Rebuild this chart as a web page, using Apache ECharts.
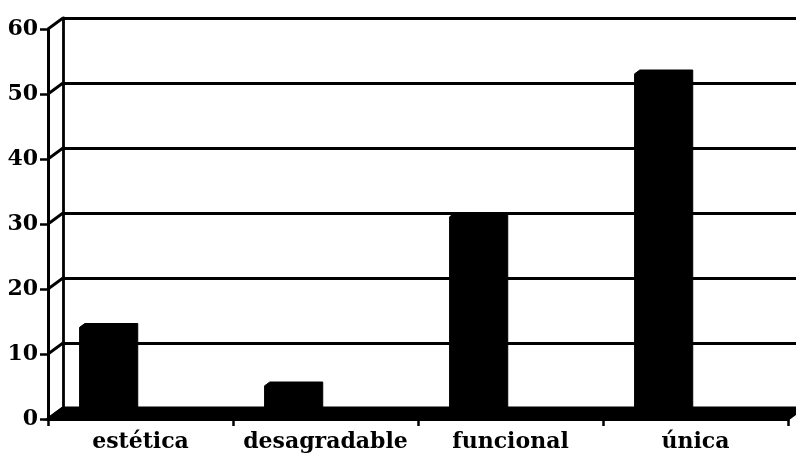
<!DOCTYPE html>
<html>
<head>
<meta charset="utf-8">
<script src="https://cdn.jsdelivr.net/npm/echarts@6/dist/echarts.min.js"></script>
<style>
  html, body { margin: 0; padding: 0; background: #ffffff; }
  #chart { width: 796px; height: 460px; }
</style>
</head>
<body>
<div id="chart"></div>
<script>
// Categories and values of the chart
const categories = ['estética', 'desagradable', 'funcional', 'única'];
const values = [13, 4, 30, 52];
const yTicks = [0, 10, 20, 30, 40, 50, 60];

// Pseudo-3D depth: offset from the front plane to the back wall, in pixels
const DX = 15, DY = 11;
// Depth fractions of the bar front and back faces
const BAR_FRONT = 0.65, BAR_BACK = 1.0;
// Bar placement inside its category band (relative to band width)
const BAR_LEFT = -0.382, BAR_WIDTH = 0.286;

const INK = '#000000';
const FONT = 'DejaVu Serif';

const chart = echarts.init(document.getElementById('chart'), null, { renderer: 'canvas' });

function renderFloor(params, api) {
  const cs = params.coordSys;
  const yb = cs.y + cs.height;
  return {
    type: 'polygon',
    shape: { points: [
      [cs.x, yb], [cs.x + cs.width, yb],
      [cs.x + cs.width + DX, yb - DY], [cs.x + DX, yb - DY]
    ] },
    style: { fill: INK, stroke: INK, lineWidth: 3 }
  };
}

function renderWall(params, api) {
  const cs = params.coordSys;
  const p = api.coord([0, api.value(1)]);
  return {
    type: 'line',
    shape: { x1: cs.x, y1: p[1], x2: cs.x + DX, y2: p[1] - DY },
    style: { stroke: INK, lineWidth: 2.8 }
  };
}

function renderBar(params, api) {
  const i = api.value(0);
  const base = api.coord([i, 0]);
  const top = api.coord([i, api.value(1)]);
  const band = api.size([1, 0])[0];
  const xl = base[0] + BAR_LEFT * band + DX * BAR_FRONT;
  const xr = xl + BAR_WIDTH * band;
  const yb = base[1] - DY * BAR_FRONT;
  const yt = top[1] - DY * BAR_FRONT;
  const ddx = DX * (BAR_BACK - BAR_FRONT);
  const ddy = DY * (BAR_BACK - BAR_FRONT);
  return {
    type: 'polygon',
    shape: { points: [
      [xl, yb], [xl, yt], [xl + ddx, yt - ddy],
      [xr + ddx, yt - ddy], [xr + ddx, yb - ddy], [xr, yb]
    ] },
    style: { fill: INK, stroke: INK, lineWidth: 1 }
  };
}

chart.setOption({
  animation: false,
  backgroundColor: '#ffffff',
  grid: [
    // back wall
    { left: 63, right: 0, top: 18, bottom: 52 },
    // front plane
    { left: 48, right: 8, top: 29, bottom: 41 }
  ],
  xAxis: [
    { gridIndex: 0, type: 'category', data: categories, show: false },
    {
      gridIndex: 1, type: 'category', data: categories,
      axisLine: { show: true, lineStyle: { color: INK, width: 3 } },
      axisTick: { show: true, interval: 0, length: 7, lineStyle: { color: INK, width: 2.5 } },
      axisLabel: { interval: 0, color: INK, fontFamily: FONT, fontWeight: 'bold', fontSize: 22, margin: 12 },
      splitLine: { show: false }
    }
  ],
  yAxis: [
    {
      gridIndex: 0, type: 'value', min: 0, max: 60, interval: 10,
      axisLine: { show: true, lineStyle: { color: INK, width: 2.8 } },
      axisTick: { show: false },
      axisLabel: { show: false },
      splitLine: { show: true, lineStyle: { color: INK, width: 2.8 } }
    },
    {
      gridIndex: 1, type: 'value', min: 0, max: 60, interval: 10,
      axisLine: { show: true, lineStyle: { color: INK, width: 3 } },
      axisTick: { show: true, length: 8, lineStyle: { color: INK, width: 2.5 } },
      axisLabel: { color: INK, fontFamily: FONT, fontWeight: 'bold', fontSize: 22, margin: 10 },
      splitLine: { show: false }
    }
  ],
  series: [
    {
      type: 'custom', xAxisIndex: 1, yAxisIndex: 1, z: 2,
      renderItem: renderFloor, data: [[0, 0]]
    },
    {
      type: 'custom', xAxisIndex: 1, yAxisIndex: 1, z: 2,
      renderItem: renderWall, data: yTicks.map(v => [0, v])
    },
    {
      type: 'custom', xAxisIndex: 1, yAxisIndex: 1, z: 3,
      renderItem: renderBar, data: values.map((v, i) => [i, v])
    }
  ]
});
</script>
</body>
</html>
